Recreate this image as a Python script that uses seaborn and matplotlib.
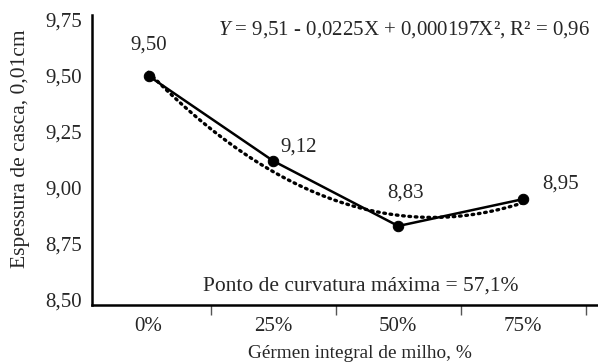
import matplotlib
matplotlib.use("Agg")
import matplotlib.pyplot as plt
import seaborn as sns
import pandas as pd
from matplotlib.ticker import FixedLocator, FuncFormatter

# Germ inclusion levels (%) and eggshell thickness (0.01 cm)
levels = [0, 25, 50, 75]
level_labels = ["0%", "25%", "50%", "75%"]
thickness = [9.50, 9.12, 8.83, 8.95]
value_labels = ["9,50", "9,12", "8,83", "8,95"]
y_ticks = [8.50, 8.75, 9.00, 9.25, 9.50, 9.75]

equation_text = "$Y$ = 9,51 - 0,0225X + 0,000197X², R² = 0,96"
curvature_text = "Ponto de curvatura máxima = 57,1%"

df = pd.DataFrame({"nivel": levels, "espessura": thickness})

sns.set_theme(style="white")
plt.rcParams["font.family"] = ["Liberation Serif", "DejaVu Serif"]
plt.rcParams["mathtext.fontset"] = "custom"
plt.rcParams["mathtext.it"] = "Liberation Serif:italic"
plt.rcParams["mathtext.rm"] = "Liberation Serif"

FS = 15

fig = plt.figure(figsize=(5.98, 3.63), dpi=100)
ax = fig.add_axes([0.154, 0.160, 0.846, 0.799])

# quadratic trend (dotted)
sns.regplot(data=df, x="nivel", y="espessura", order=2, ci=None, scatter=False,
            ax=ax, truncate=True,
            line_kws=dict(color="black", lw=2.4, linestyle=(0, (0.5, 1.4)),
                          dash_capstyle="round"))

# observed means
sns.lineplot(data=df, x="nivel", y="espessura", ax=ax, color="black", lw=1.8,
             marker="o", markersize=7.5, markeredgecolor="black",
             markerfacecolor="black")

label_offsets = [(0, 22), (18, 10), (5, 24), (27, 11)]
for xv, yv, txt, off in zip(levels, thickness, value_labels, label_offsets):
    ax.annotate(txt, (xv, yv), xytext=off, textcoords="offset points",
                ha="center", va="center", fontsize=FS)

ax.set_xlim(-11.3, 90)
ax.set_ylim(8.478, 9.772)
ax.set_yticks(y_ticks)
ax.yaxis.set_major_formatter(FuncFormatter(lambda v, p: f"{v:.2f}".replace(".", ",")))
ax.set_xticks(levels)
ax.set_xticklabels(level_labels)
ax.xaxis.set_minor_locator(FixedLocator([12.5, 37.5, 62.5, 87.5]))

ax.tick_params(axis="x", which="major", length=0, pad=9, labelsize=FS)
ax.tick_params(axis="x", which="minor", length=7, width=1, color="#555555",
               direction="out", bottom=True)
ax.tick_params(axis="y", length=0, pad=7, labelsize=FS)

for side in ["top", "right"]:
    ax.spines[side].set_visible(False)
for side in ["left", "bottom"]:
    ax.spines[side].set_linewidth(1.8)
    ax.spines[side].set_color("black")

ax.set_xlabel("Gérmen integral de milho, %", fontsize=13.9, labelpad=6, x=0.53)
ax.set_ylabel("Espessura de casca, 0,01cm", fontsize=15.5, labelpad=11, y=0.538)

ax.text(0.985, 0.985, equation_text, transform=ax.transAxes, ha="right",
        va="top", fontsize=FS)
ax.text(0.220, 0.065, curvature_text, transform=ax.transAxes, ha="left",
        va="center", fontsize=15.5)

fig.savefig("out.png", dpi=100)
